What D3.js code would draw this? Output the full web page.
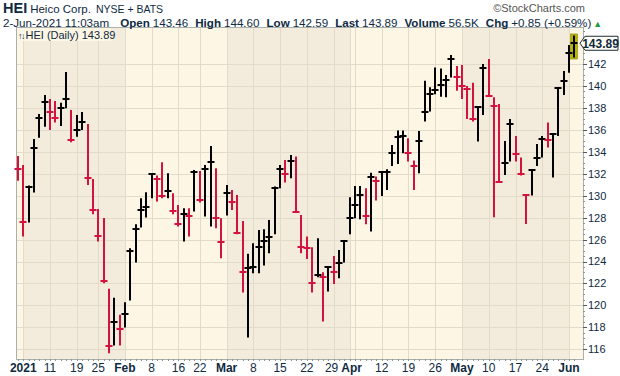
<!DOCTYPE html>
<html><head><meta charset="utf-8">
<script src="https://cdn.jsdelivr.net/npm/d3@7"></script>
<style>
body{margin:0;background:#fff}
svg{display:block}
text{font-family:"Liberation Sans",Arial,sans-serif}
</style>
</head><body>
<svg id="c" width="620" height="376"></svg>
<script>
const dates = [
"2020-12-31",
"2021-01-04","2021-01-05","2021-01-06","2021-01-07","2021-01-08","2021-01-11","2021-01-12","2021-01-13","2021-01-14","2021-01-15",
"2021-01-19","2021-01-20","2021-01-21","2021-01-22","2021-01-25","2021-01-26","2021-01-27","2021-01-28","2021-01-29",
"2021-02-01","2021-02-02","2021-02-03","2021-02-04","2021-02-05","2021-02-08","2021-02-09","2021-02-10","2021-02-11","2021-02-12",
"2021-02-16","2021-02-17","2021-02-18","2021-02-19","2021-02-22","2021-02-23","2021-02-24","2021-02-25","2021-02-26",
"2021-03-01","2021-03-02","2021-03-03","2021-03-04","2021-03-05","2021-03-08","2021-03-09","2021-03-10","2021-03-11","2021-03-12",
"2021-03-15","2021-03-16","2021-03-17","2021-03-18","2021-03-19","2021-03-22","2021-03-23","2021-03-24","2021-03-25","2021-03-26",
"2021-03-29","2021-03-30","2021-03-31",
"2021-04-01","2021-04-05","2021-04-06","2021-04-07","2021-04-08","2021-04-09","2021-04-12","2021-04-13","2021-04-14","2021-04-15","2021-04-16",
"2021-04-19","2021-04-20","2021-04-21","2021-04-22","2021-04-23","2021-04-26","2021-04-27","2021-04-28","2021-04-29","2021-04-30",
"2021-05-03","2021-05-04","2021-05-05","2021-05-06","2021-05-07","2021-05-10","2021-05-11","2021-05-12","2021-05-13","2021-05-14",
"2021-05-17","2021-05-18","2021-05-19","2021-05-20","2021-05-21","2021-05-24","2021-05-25","2021-05-26","2021-05-27","2021-05-28",
"2021-06-01","2021-06-02"
];
const highs = [
133.62,132.8,130.92,135.17,137.45,139.18,138.81,138.63,138.48,141.27,137.81,137.36,137.63,136.54,131.53,128.79,127.97,121.51,120.69,119.14,
120.29,125.21,127.4,129.77,130.31,131.95,131.83,133.04,132.04,130.22,129.16,128.85,128.85,132.35,132.26,132.8,134.53,132.5,127.94,
130.98,130.52,130.07,127.7,124.7,125.67,126.88,126.94,127.79,130.83,132.8,133.26,133.71,133.56,128.25,126.27,125.3,126.12,123.03,123.54,124.51,125.06,125.97,
129.86,130.89,130.89,130.68,132.1,131.74,132.19,132.41,134.62,135.93,135.93,135.23,133.2,135.9,140.48,139.87,141.67,141.6,141.0,142.82,141.82,
141.91,140.0,140.3,138.17,142.0,142.46,138.96,138.36,134.99,136.99,135.44,133.47,130.13,132.41,134.71,135.44,136.66,135.62,139.87,141.36,
143.73,144.60
];
const lows = [
131.37,126.27,127.55,130.28,135.29,136.29,135.99,136.66,136.35,137.96,134.87,135.38,135.99,130.98,128.31,125.82,122.02,115.65,116.35,116.35,
117.99,120.45,123.91,127.09,128.0,129.77,129.46,129.77,129.77,128.31,127.19,125.82,126.27,128.55,129.37,128.1,127.19,127.03,124.3,
128.19,128.7,126.49,121.17,117.08,122.94,122.94,123.63,124.76,126.49,130.68,131.19,131.59,128.46,124.76,124.24,121.17,122.57,118.53,121.27,121.96,122.48,123.91,
126.49,127.94,127.85,127.4,126.73,129.55,129.98,130.52,132.71,132.89,133.86,133.11,130.52,132.04,136.75,137.66,139.24,139.02,138.96,140.76,139.57,
138.81,136.99,136.75,134.93,137.36,139.09,128.04,131.22,131.89,133.11,133.11,131.83,127.43,130.01,132.71,133.47,134.38,131.65,135.44,139.18,
141.21,142.59
];
const closes = [
132.41,127.64,130.83,134.38,137.11,138.57,137.66,137.11,138.02,138.81,135.08,135.99,136.75,131.65,128.7,126.37,122.18,116.26,118.53,117.83,
119.23,125.0,126.94,128.7,129.01,131.95,131.53,129.98,130.46,128.64,127.43,128.34,128.16,132.19,129.61,132.47,133.1,128.0,125.82,
130.22,129.4,126.64,123.09,123.45,123.54,125.36,125.91,126.27,130.74,132.44,131.95,133.2,128.55,125.36,125.27,122.08,122.78,122.57,123.54,123.09,123.91,125.91,
128.0,129.16,130.07,128.19,131.74,131.37,132.13,132.19,133.86,135.38,135.47,133.86,132.71,135.02,137.66,139.24,139.63,140.09,140.54,142.46,140.85,
140.03,139.72,136.99,138.11,141.67,139.12,138.2,131.28,132.95,136.54,133.8,131.98,130.07,132.35,133.41,135.17,135.1,135.59,139.84,140.48,
143.04,143.89
];
const priorClose = 133.05;
const yTicks = [116,118,120,122,124,126,128,130,132,134,136,138,140,142];
const tickDates = ["2021-01-04","2021-01-11","2021-01-19","2021-01-25","2021-02-01","2021-02-08","2021-02-16","2021-02-22",
  "2021-03-01","2021-03-08","2021-03-15","2021-03-22","2021-03-29","2021-04-01","2021-04-05","2021-04-12","2021-04-19","2021-04-26",
  "2021-05-03","2021-05-10","2021-05-17","2021-05-24","2021-06-01"];
const tickLabels = ["2021","11","19","25","Feb","8","16","22","Mar","8","15","22","29","Apr","","12","19","26","May","10","17","24","Jun"];
const tickBold = [true,false,false,false,true,false,false,false,true,false,false,false,false,true,false,false,false,false,true,false,false,false,true];
const monthStarts = ["2021-01-04","2021-02-01","2021-03-01","2021-04-01","2021-05-03","2021-06-01"];

const svg = d3.select("#c");
const L=16, R=583, T=27, B=359;
const LIGHT="#fdf6e4", DARK="#f3ecdc", GRID="#e2dbca", TXT="#0f2a3f";
const x = d3.scalePoint().domain(dates).range([17.95,574.35]);
const y = d3.scaleLinear().domain([116,142]).range([349.3,64]);

// month bands
const bounds=[L, ...monthStarts.map(d=>Math.round(x(d))), R];
for(let i=0;i<bounds.length-1;i++){
  svg.append("rect").attr("x",bounds[i]).attr("y",T).attr("width",bounds[i+1]-bounds[i]).attr("height",B-T)
    .attr("fill", i%2===0?LIGHT:DARK);
}
// grid
svg.append("g").selectAll("line").data(yTicks).join("line")
  .attr("x1",L).attr("x2",R).attr("y1",d=>Math.round(y(d))+0.5).attr("y2",d=>Math.round(y(d))+0.5)
  .attr("stroke",GRID).attr("stroke-width",1);
svg.append("g").selectAll("line").data(tickDates).join("line")
  .attr("y1",T).attr("y2",B).attr("x1",d=>Math.round(x(d))+0.5).attr("x2",d=>Math.round(x(d))+0.5)
  .attr("stroke",GRID).attr("stroke-width",1);

// frame
svg.append("rect").attr("x",L+0.5).attr("y",T+0.5).attr("width",R-L).attr("height",B-T)
  .attr("fill","none").attr("stroke","#a9b0ad").attr("stroke-width",1);

// legend box
svg.append("rect").attr("x",L+1).attr("y",T+1).attr("width",94).attr("height",13).attr("fill",LIGHT);
const lg = svg.append("text").attr("x",18).attr("y",38.5).attr("font-size",11).attr("fill",TXT);
lg.append("tspan").attr("font-size",9).attr("letter-spacing",-1.5).text("↑↓");
lg.append("tspan").attr("dx",1.5).text("HEI (Daily) 143.89");

// last-bar highlight
const lastI = dates.length-1;
const lx = Math.round(x(dates[lastI]));
svg.append("rect").attr("x",lx-3.5).attr("y",y(highs[lastI])-1.5).attr("width",7)
  .attr("height",y(lows[lastI])-y(highs[lastI])+3).attr("fill","#b8b200").attr("stroke","#8f8b00").attr("stroke-width",0.6);

// bars
const bars = svg.append("g");
dates.forEach((d,i)=>{
  const prev = i===0?priorClose:closes[i-1];
  const col = closes[i] < prev ? "#d3123e" : "#000";
  const cx = Math.round(x(d));
  bars.append("line").attr("x1",cx).attr("x2",cx).attr("y1",y(highs[i])).attr("y2",y(lows[i]))
    .attr("stroke",col).attr("stroke-width",2);
  const cy = Math.round(y(closes[i]));
  bars.append("line").attr("x1",cx-3.5).attr("x2",cx+3.5).attr("y1",cy).attr("y2",cy)
    .attr("stroke",col).attr("stroke-width",2);
});

// right axis
const ax = svg.append("g");
const minor = d3.range(116,145.01,0.5);
ax.selectAll("line.mn").data(minor).join("line").attr("class","mn")
  .attr("x1",R).attr("x2",R+2).attr("y1",d=>Math.round(y(d))+0.5).attr("y2",d=>Math.round(y(d))+0.5)
  .attr("stroke","#8a9595").attr("stroke-width",1);
ax.selectAll("line.mj").data(yTicks).join("line").attr("class","mj")
  .attr("x1",R).attr("x2",R+4).attr("y1",d=>Math.round(y(d))+0.5).attr("y2",d=>Math.round(y(d))+0.5)
  .attr("stroke","#4a5a60").attr("stroke-width",1);
ax.selectAll("text").data(yTicks).join("text")
  .attr("x",R+5).attr("y",d=>y(d)).attr("dy","0.36em").attr("font-size",11).attr("fill",TXT)
  .text(d=>d);

// bottom axis ticks and labels
svg.append("g").selectAll("line").data(dates).join("line")
  .attr("x1",d=>Math.round(x(d))+0.5).attr("x2",d=>Math.round(x(d))+0.5).attr("y1",B).attr("y2",B+2)
  .attr("stroke","#8a9595").attr("stroke-width",1);
svg.append("g").selectAll("text").data(tickDates).join("text")
  .attr("x",(d,i)=>x(d)+(tickLabels[i]==="29"?-2:tickLabels[i]==="Apr"?2:0)).attr("y",372).attr("text-anchor","middle")
  .attr("font-size",12).attr("font-weight",(d,i)=>tickBold[i]?"bold":"normal").attr("fill",TXT)
  .text((d,i)=>tickLabels[i]);

// price label
const py = y(closes[lastI]);
svg.append("path").attr("d",`M${R-3},${py} L${R+2},${py-7} L618,${py-7} L618,${py+7} L${R+2},${py+7} Z`)
  .attr("fill","#fffef6").attr("stroke","#1c2c36").attr("stroke-width",1);
svg.append("text").attr("x",600.5).attr("y",py).attr("dy","0.36em").attr("text-anchor","middle")
  .attr("font-size",12).attr("font-weight","bold").attr("fill",TXT).text("143.89");

// header
const h1 = svg.append("text").attr("x",3).attr("y",13).attr("fill",TXT);
h1.append("tspan").attr("font-size",14.5).attr("font-weight","bold").text("HEI");
h1.append("tspan").attr("dx",3).attr("font-size",11.5).text("Heico Corp.");
h1.append("tspan").attr("dx",5).attr("font-size",10.5).text("NYSE + BATS");
svg.append("text").attr("x",585).attr("y",12).attr("text-anchor","end").attr("font-size",11).attr("fill","#555")
  .text("©StockCharts.com");
const h2 = svg.append("text").attr("x",3).attr("y",27).attr("font-size",11.6).attr("fill",TXT);
const parts = [["2-Jun-2021 11:03am",false,0],["Open",true,11],["143.46",false,3],["High",true,7],["144.60",false,3],
  ["Low",true,7],["142.59",false,3],["Last",true,7],["143.89",false,3],["Volume",true,7],["56.5K",false,3],
  ["Chg",true,7],["+0.85 (+0.59%)",false,3]];
parts.forEach(p=>{ h2.append("tspan").attr("dx",p[2]).attr("font-weight",p[1]?"bold":"normal").text(p[0]); });
h2.append("tspan").attr("dx",2).attr("font-size",9).attr("fill","#1e9a3a").text("▲");
</script>
</body></html>
